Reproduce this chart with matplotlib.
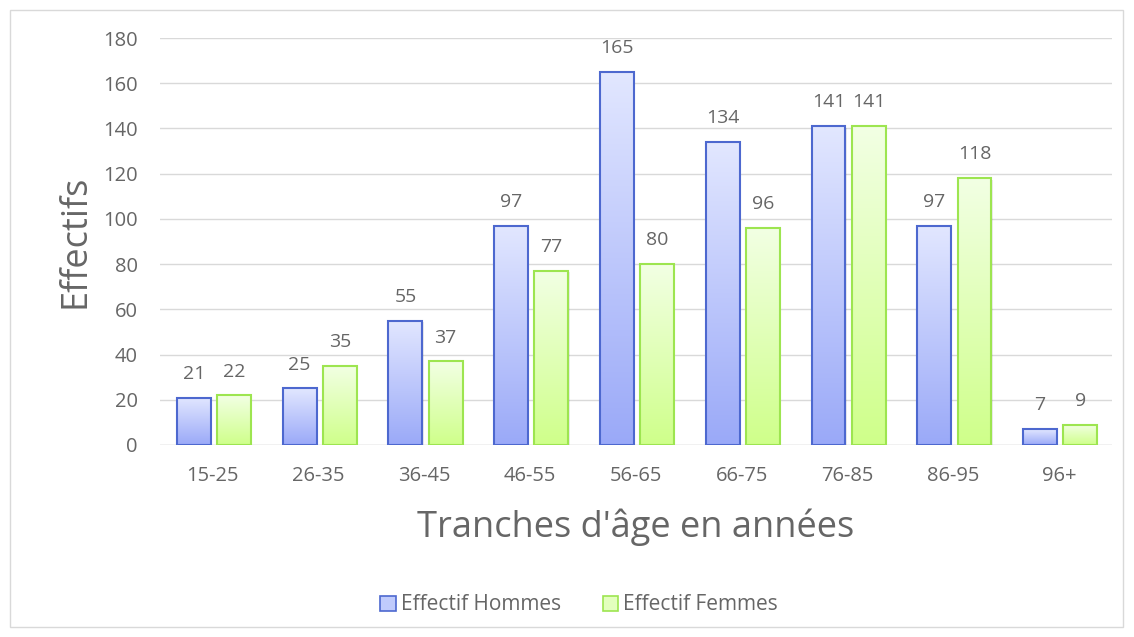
import matplotlib
matplotlib.use("Agg")
import matplotlib.pyplot as plt
import numpy as np
from matplotlib.colors import LinearSegmentedColormap
from matplotlib.patches import Rectangle, Patch

categories = ["15-25", "26-35", "36-45", "46-55", "56-65", "66-75", "76-85", "86-95", "96+"]
hommes = [21, 25, 55, 97, 165, 134, 141, 97, 7]
femmes = [22, 35, 37, 77, 80, 96, 141, 118, 9]
series_names = ["Effectif Hommes", "Effectif Femmes"]

plt.rcParams['font.family'] = ['Open Sans', 'DejaVu Sans']
txt = '#666666'

fig = plt.figure(figsize=(11.34, 6.37), dpi=100)
fig.patches.append(Rectangle((10/1134, 10/637), 1113/1134, 617/637, transform=fig.transFigure,
                             fill=False, edgecolor='#D9D9D9', lw=1))
ax = fig.add_axes([160/1134, 1-445/637, 952/1134, 407/637])

cm_h = LinearSegmentedColormap.from_list('h', ['#9AA9F8', '#E2E7FF'])
cm_f = LinearSegmentedColormap.from_list('f', ['#CFFF8A', '#F2FFE4'])
grad = np.linspace(0, 1, 256).reshape(-1, 1)[::-1]

w = 0.32
offs = [-0.18, 0.20]
x = np.arange(len(categories))
for vals, off, cmap, ec in [(hommes, offs[0], cm_h, '#4D68CF'), (femmes, offs[1], cm_f, '#9DE550')]:
    for xi, v in zip(x, vals):
        x0 = xi + off - w/2
        # subtle shadow
        ax.add_patch(Rectangle((x0 + 0.012, -0.6), w, v, facecolor='#000000', alpha=0.08,
                               edgecolor='none', zorder=1.5))
        ax.imshow(grad, extent=[x0, x0 + w, 0, v], aspect='auto', cmap=cmap, zorder=2, interpolation='bilinear')
        ax.add_patch(Rectangle((x0, 0), w, v, fill=False, edgecolor=ec, lw=1.5, zorder=3))
        ax.text(xi + off, v + 6.5, str(v), ha='center', va='bottom', fontsize=14, color=txt, zorder=4)

ax.set_xlim(-0.5, len(categories) - 0.5)
ax.set_ylim(0, 180)
ax.set_yticks(range(0, 181, 20))
ax.set_xticks(x)
ax.set_xticklabels(categories)
ax.grid(axis='y', color='#D9D9D9', lw=1, zorder=0)
ax.set_axisbelow(True)
for s in ax.spines.values():
    s.set_visible(False)
ax.axhline(0, color='#D9D9D9', lw=1, zorder=1)
ax.tick_params(length=0, labelsize=14.5, colors=txt)
ax.tick_params(axis='x', pad=15)
ax.tick_params(axis='y', pad=16)
ax.set_ylabel("Effectifs", fontsize=26, color=txt, labelpad=7)
ax.set_xlabel("Tranches d'âge en années", fontsize=26, color=txt, labelpad=16)

handles = [Patch(facecolor='#C0CBFC', edgecolor='#4D68CF', lw=1.2),
           Patch(facecolor='#E3FFBE', edgecolor='#9DE550', lw=1.2)]
fig.legend(handles, series_names, loc='center', bbox_to_anchor=(579/1134, 1-605/637), ncol=2,
           frameon=False, fontsize=15, labelcolor=txt, handlelength=0.75, handleheight=0.75,
           handletextpad=0.25, columnspacing=2.0)

fig.savefig("out.png", dpi=100)
